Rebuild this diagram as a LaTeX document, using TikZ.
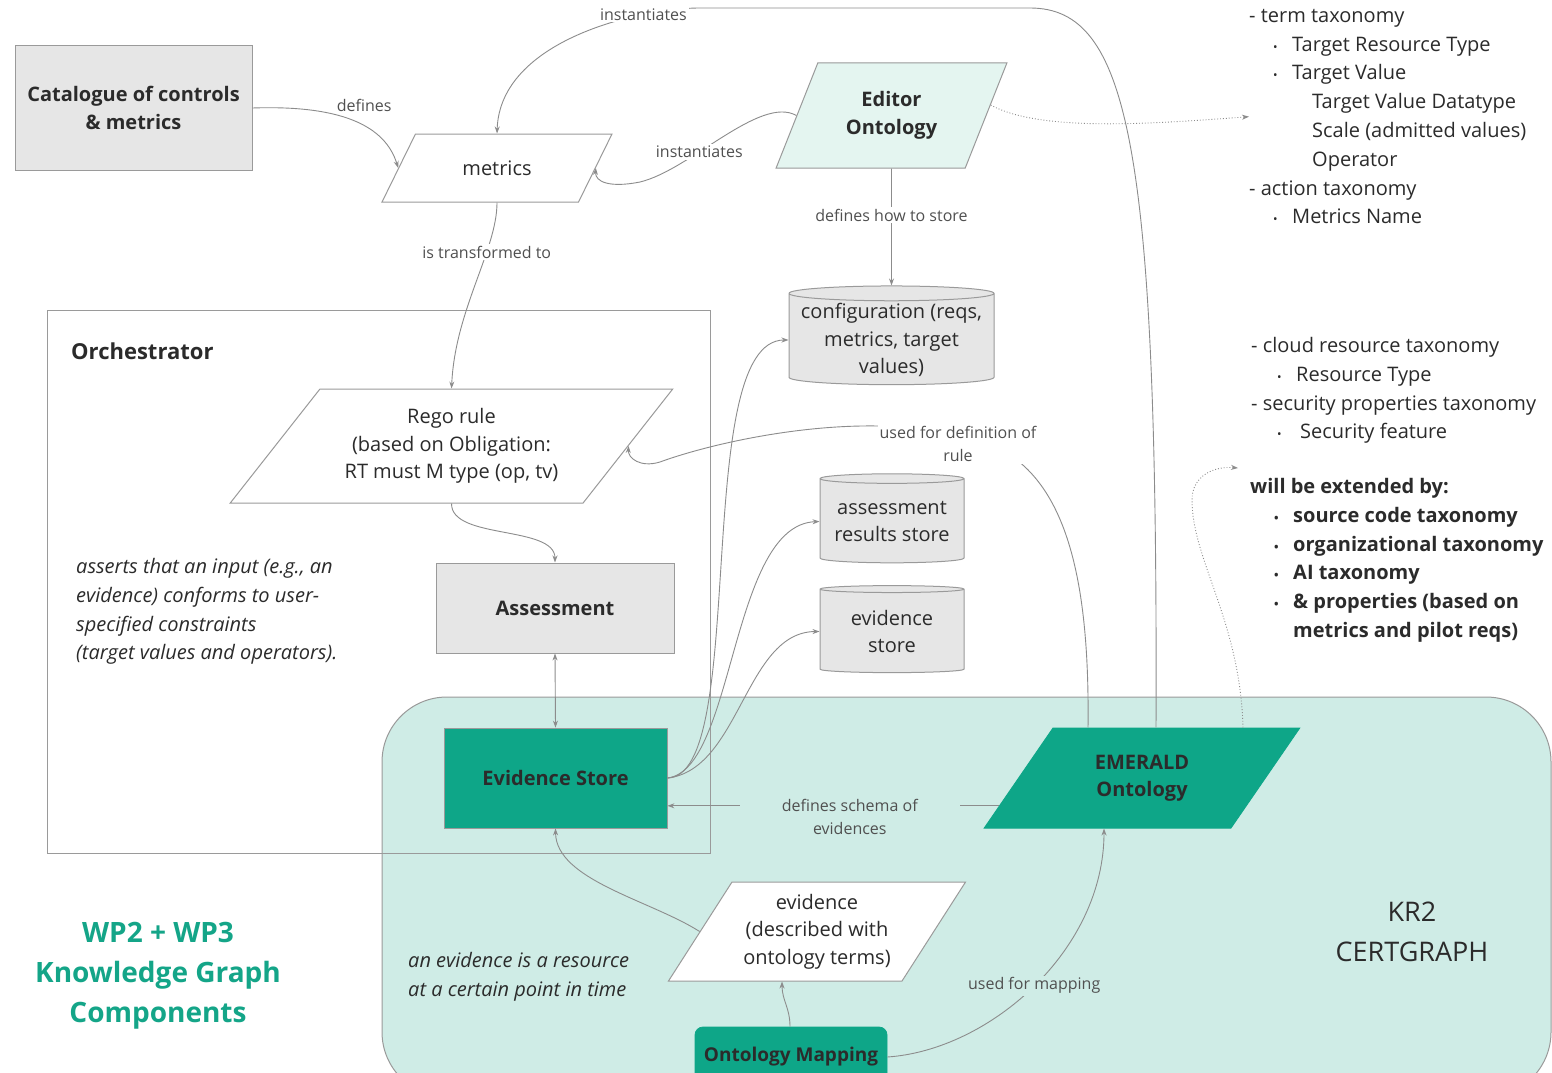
\documentclass[tikz,border=0pt]{standalone}
\usepackage{fontspec}
\setmainfont{Open Sans}
\usetikzlibrary{shapes.geometric,arrows.meta}

\definecolor{boxgrey}{HTML}{E6E6E6}
\definecolor{boxline}{HTML}{9A9A9A}
\definecolor{mint}{HTML}{E4F5F0}
\definecolor{kgteal}{HTML}{0EA688}
\definecolor{kgregion}{HTML}{CFECE6}
\definecolor{linkgrey}{HTML}{8C8C8C}
\definecolor{inktext}{HTML}{2B2B2B}
\definecolor{labeltext}{HTML}{505050}
\definecolor{wpteal}{HTML}{14A588}

\newcommand{\bitem}{\hspace*{24pt}\makebox[19pt][l]{\fontsize{12}{12}\selectfont\textbullet}}

\begin{document}
\begin{tikzpicture}[x=1pt,y=-1pt,
  >={Stealth[length=7pt,width=5pt]},
  link/.style={->,draw=linkgrey,line width=0.9pt},
  edgelabel/.style={fill=white,text=labeltext,font=\fontsize{16}{23}\selectfont,inner sep=2pt,align=center},
  boxtext/.style={text=inktext,font=\fontsize{20}{27.5}\selectfont,align=center},
  greybox/.style={boxtext,rectangle,draw=boxline,fill=boxgrey,line width=1pt,font=\fontsize{20}{27.5}\selectfont\bfseries},
  tealbox/.style={boxtext,rectangle,draw=boxline,fill=kgteal,line width=0.8pt,font=\fontsize{20}{27.5}\selectfont\bfseries},
  slanted/.style={boxtext,trapezium,trapezium stretches=true,draw=boxline,line width=1pt,inner sep=2pt},
  store/.style={boxtext,cylinder,shape border rotate=90,aspect=0.08,draw=boxline,fill=boxgrey,line width=1pt,inner sep=2pt},
  kgarea/.style={draw=boxline,fill=kgregion,line width=1pt,rounded corners=65pt},
  remark/.style={text=inktext,font=\fontsize{20}{28.8}\selectfont\itshape,align=left,inner sep=0pt},
  listtext/.style={text=inktext,font=\fontsize{20}{28.8}\selectfont,align=left,inner sep=0pt}]
  \path[use as bounding box,fill=white] (0,0) rectangle (1552,1073);
  % containers
  \node[kgarea,minimum width=1169pt,minimum height=400pt] (kr2) at (966.5,897) {};
  \node[draw=boxline,line width=1pt,minimum width=663pt,minimum height=543pt] (orch) at (378.5,581.5) {};
  \node[text=inktext,font=\fontsize{22}{28}\selectfont\bfseries,anchor=west,inner sep=0pt] (orchtitle) at (71,351) {Orchestrator};
  %
  \node[greybox,minimum width=237pt,minimum height=124pt] (catalogue) at (133.5,108) {Catalogue of controls\\\& metrics};
  \node[slanted,fill=white,trapezium left angle=51.5,trapezium right angle=128.5,minimum width=230pt,minimum height=68pt] (metrics) at (497,168) {metrics};
  \node[slanted,fill=mint,font=\fontsize{20}{27.5}\selectfont\bfseries,trapezium left angle=62.4,trapezium right angle=117.6,minimum width=231pt,minimum height=105pt] (editor) at (891.5,115.5) {Editor\\Ontology};
  \node[slanted,fill=white,trapezium left angle=46.8,trapezium right angle=133.2,minimum width=445pt,minimum height=114pt] (rego) at (451.5,446) {Rego rule\\(based on Obligation:\\RT must M type (op, tv)};
  \node[greybox,minimum width=238pt,minimum height=90pt] (assessment) at (555,608) {Assessment};
  %
  \node[store,minimum width=205pt,minimum height=96pt] (config) at (891.5,340) {configuration (reqs,\\metrics, target\\values)};
  \node[store,minimum width=144pt,minimum height=89pt] (results) at (892,521.5) {assessment\\results store};
  \node[store,minimum width=144pt,minimum height=87pt] (evstorage) at (892,631.5) {evidence\\store};
  %
  \node[tealbox,minimum width=223pt,minimum height=100pt] (evstore) at (555.5,778) {Evidence Store};
  \node[slanted,fill=kgteal,draw=kgteal,font=\fontsize{20}{27.5}\selectfont\bfseries,trapezium left angle=53.1,trapezium right angle=126.9,minimum width=316pt,minimum height=100pt] (emerald) at (1142,778) {EMERALD\\Ontology};
  \node[slanted,fill=white,trapezium left angle=54.4,trapezium right angle=125.6,minimum width=298pt,minimum height=99pt] (evidence) at (817,931.5) {evidence\\(described with\\ontology terms)};
  \node[tealbox,draw=kgteal,rounded corners=8pt,font=\fontsize{19}{27.5}\selectfont\bfseries,minimum width=192pt,minimum height=60pt] (mapping) at (791,1057) {Ontology Mapping};
  %
  \node[remark,anchor=north west] (asserts) at (76,558) {asserts that an input (e.g., an\\evidence) conforms to user-\\specified constraints\\(target values and operators).};
  \node[remark,anchor=north west] (resource) at (408,952) {an evidence is a resource\\at a certain point in time};
  \node[text=wpteal,font=\fontsize{28}{40}\selectfont\bfseries,align=center] (wp) at (158,976) {WP2 + WP3\\Knowledge Graph\\Components};
  \node[text=inktext,font=\fontsize{27}{40}\selectfont,align=center] (certgraph) at (1412,932) {KR2\\CERTGRAPH};
  %
  \node[listtext,anchor=north west] (termblock) at (1249,9) {- term taxonomy\\\bitem Target Resource Type\\\bitem Target Value\\\hspace*{63pt}Target Value Datatype\\\hspace*{63pt}Scale (admitted values)\\\hspace*{63pt}Operator\\- action taxonomy\\\bitem Metrics Name};
  \node[listtext,anchor=north west] (taxblock) at (1251,337) {- cloud resource taxonomy\\\hspace*{2pt}\bitem Resource Type\\- security properties taxonomy\\\hspace*{2pt}\bitem\hspace*{4pt}Security feature};
  \node[listtext,font=\fontsize{20}{28.8}\selectfont\bfseries,anchor=north west] (extblock) at (1250,478) {will be extended by:\\\bitem source code taxonomy\\\bitem organizational taxonomy\\\bitem AI taxonomy\\\bitem \& properties (based on\\\hspace*{43pt}metrics and pilot reqs)};
  %
  \draw[link] (catalogue.east) .. controls (340,105) and (385,125) .. (metrics.west) node[pos=0.38,above right=0pt,edgelabel,fill=none] {defines};
  \draw[link] ([xshift=14pt]emerald.north) .. controls (1158,150) and (1130,8) .. (1030,8) -- (700,8) .. controls (640,8) and (500,40) .. (metrics.north) node[pos=0.25,edgelabel] {instantiates};
  \draw[link] (editor.west) .. controls (760,95) and (690,170) .. (640,182) node[pos=0.64,edgelabel] {instantiates} .. controls (610,188) and (595,182) .. (metrics.east);
  \draw[link,dotted] (editor.6) .. controls (1040,132) and (1150,124) .. (termblock.west);
  \draw[link] (editor.south) -- (config.north) node[pos=0.4,edgelabel] {defines how to store};
  \draw[link] (metrics.south) .. controls (497,250) and (455,310) .. (rego.north) node[pos=0.32,edgelabel] {is transformed to};
  \draw[link] (rego.south) .. controls (451,540) and (555,525) .. (assessment.north);
  \draw[link,<->] (assessment.south) -- (evstore.north);
  %
  \draw[link] (evstore.east) .. controls (750,777) and (690,340) .. (config.west);
  \draw[link] (evstore.east) .. controls (735,770) and (730,525) .. (results.west);
  \draw[link] (evstore.east) .. controls (740,770) and (745,632) .. (evstorage.west);
  \draw[link] ([xshift=-54pt]emerald.north) .. controls (1090,560) and (1060,450) .. (958,436) node[edgelabel,yshift=-8pt] {used for definition of\\rule} .. controls (860,410) and (720,440) .. (660,462) .. controls (640,468) and (628,458) .. (rego.east);
  \draw[link] (emerald.191) -- (evstore.east |- emerald.191) node[pos=0.45,edgelabel,fill=kgregion,inner xsep=42pt,yshift=-11pt] {defines schema of\\evidences};
  %
  \draw[link] (evidence.west) .. controls (650,900) and (556,880) .. (evstore.south);
  \draw[link] ([xshift=-1pt]mapping.north) .. controls (790,1008) and (782,1000) .. ([xshift=-35pt]evidence.south);
  \draw[link] (mapping.east) .. controls (990,1050) and (1104,950) .. ([xshift=-38pt]emerald.south) node[pos=0.5,edgelabel,fill=kgregion] {used for mapping};
  \draw[link,dotted] ([xshift=101pt]emerald.north) .. controls (1240,620) and (1192,560) .. (1192,500) .. controls (1192,475) and (1215,466) .. ([xshift=-12pt,yshift=10pt]extblock.north west);
\end{tikzpicture}
\end{document}
